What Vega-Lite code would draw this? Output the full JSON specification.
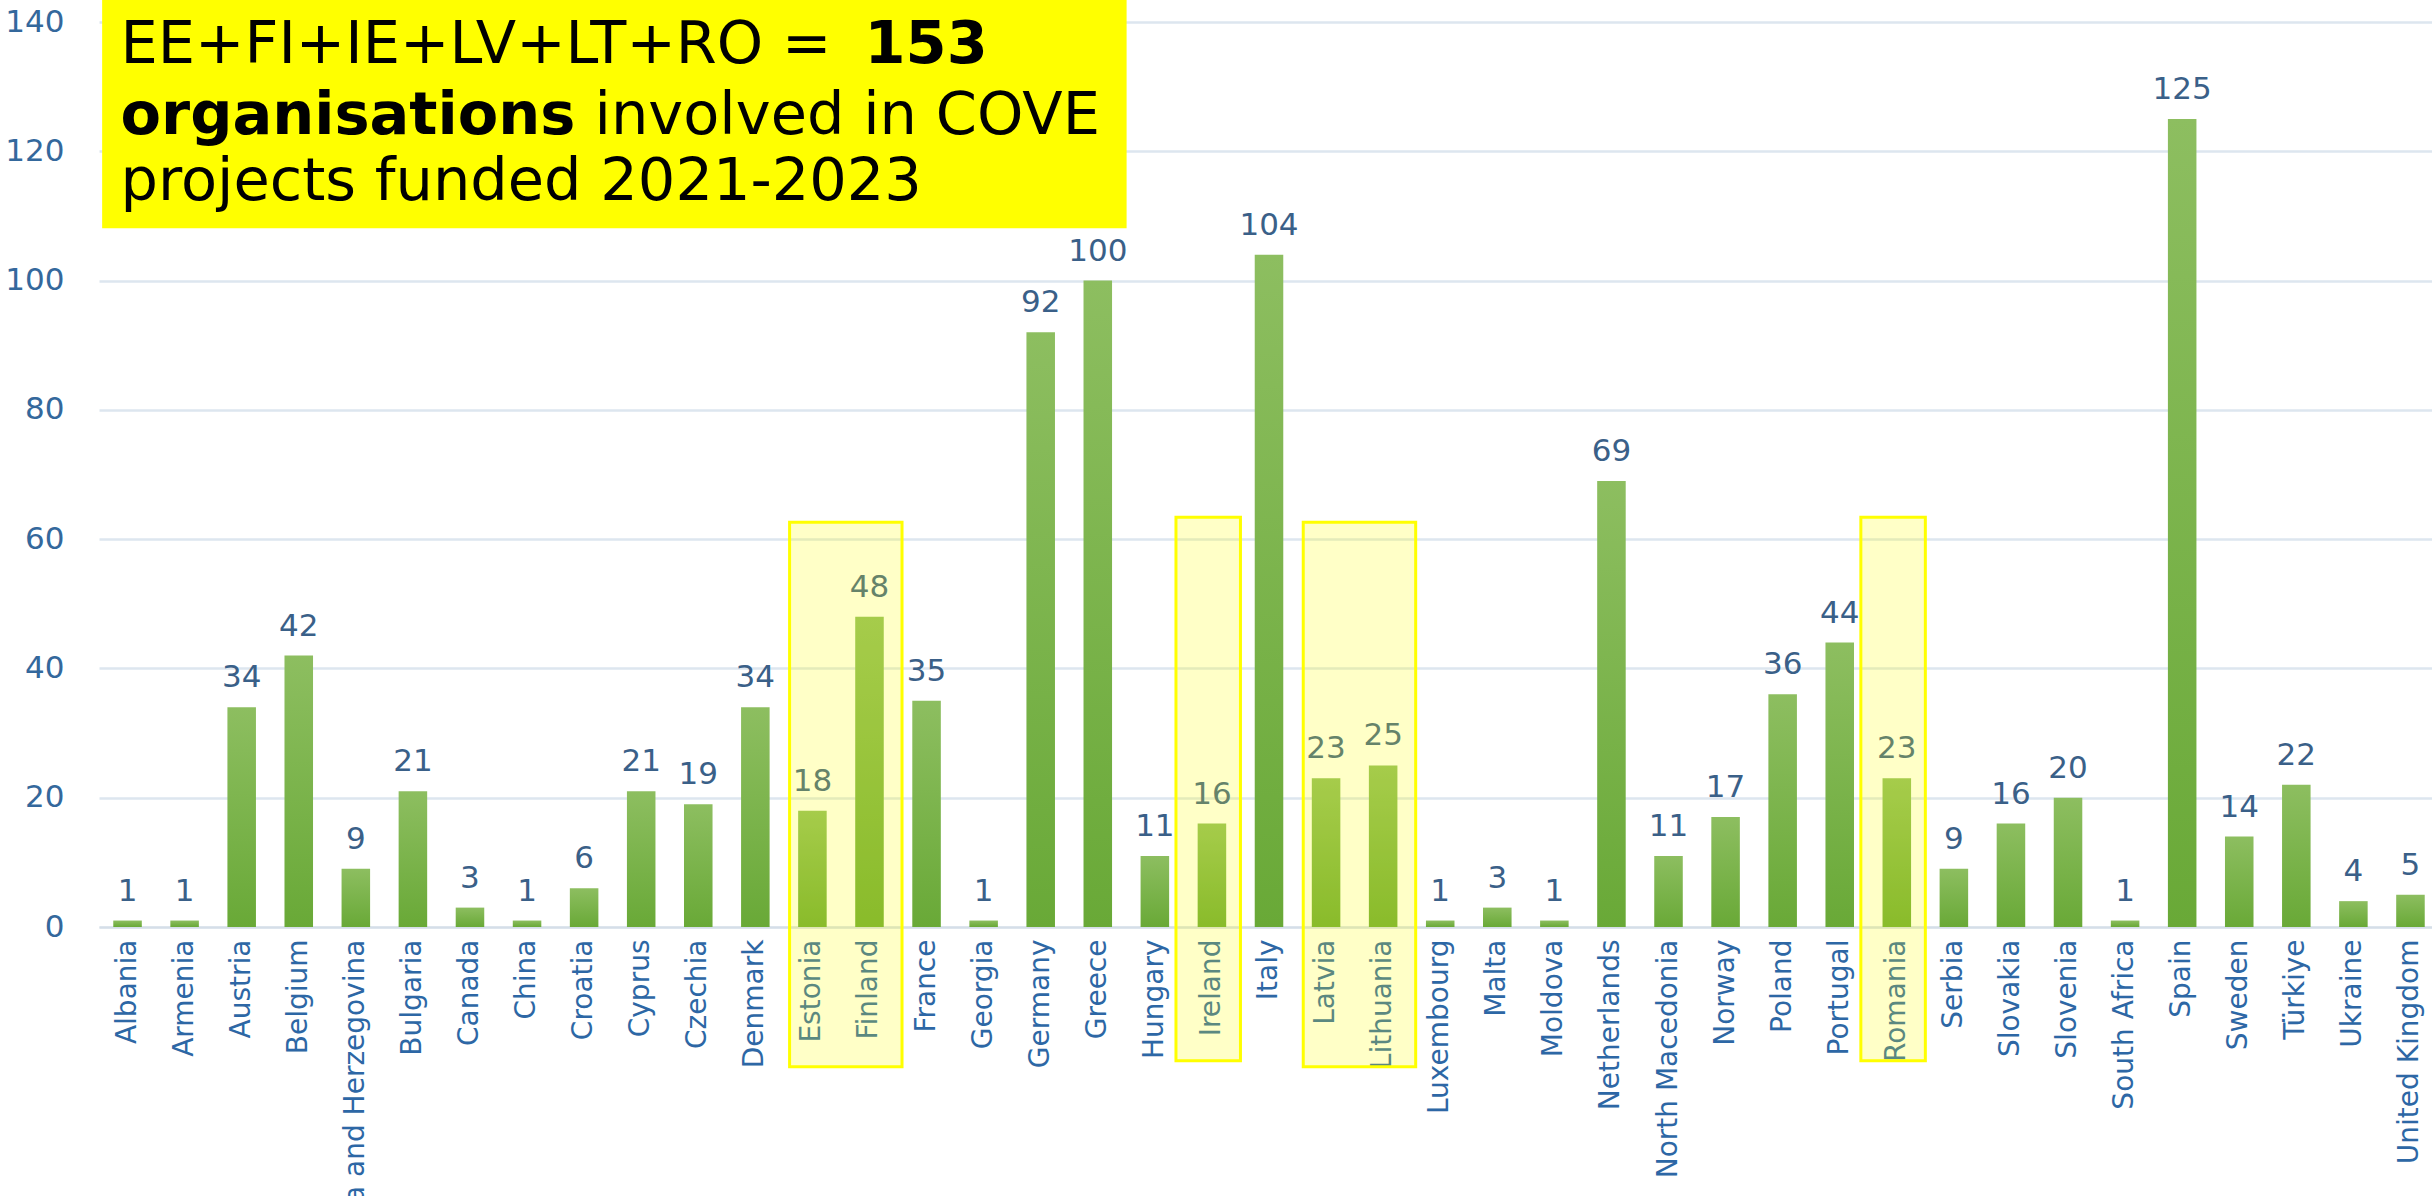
{
  "$schema": "https://vega.github.io/schema/vega-lite/v6.json",
  "autosize": {"type": "none"},
  "padding": {"left": 99, "top": 22, "right": 0, "bottom": 300},
  "width": 2340,
  "height": 905,
  "background": "#ffffff",
  "config": {
    "view": {"stroke": null},
    "font": "DejaVu Sans"
  },
  "datasets": {
    "countries": [
      {"country": "Albania", "orgs": 1},
      {"country": "Armenia", "orgs": 1},
      {"country": "Austria", "orgs": 34},
      {"country": "Belgium", "orgs": 42},
      {"country": "Bosnia and Herzegovina", "orgs": 9},
      {"country": "Bulgaria", "orgs": 21},
      {"country": "Canada", "orgs": 3},
      {"country": "China", "orgs": 1},
      {"country": "Croatia", "orgs": 6},
      {"country": "Cyprus", "orgs": 21},
      {"country": "Czechia", "orgs": 19},
      {"country": "Denmark", "orgs": 34},
      {"country": "Estonia", "orgs": 18},
      {"country": "Finland", "orgs": 48},
      {"country": "France", "orgs": 35},
      {"country": "Georgia", "orgs": 1},
      {"country": "Germany", "orgs": 92},
      {"country": "Greece", "orgs": 100},
      {"country": "Hungary", "orgs": 11},
      {"country": "Ireland", "orgs": 16},
      {"country": "Italy", "orgs": 104},
      {"country": "Latvia", "orgs": 23},
      {"country": "Lithuania", "orgs": 25},
      {"country": "Luxembourg", "orgs": 1},
      {"country": "Malta", "orgs": 3},
      {"country": "Moldova", "orgs": 1},
      {"country": "Netherlands", "orgs": 69},
      {"country": "North Macedonia", "orgs": 11},
      {"country": "Norway", "orgs": 17},
      {"country": "Poland", "orgs": 36},
      {"country": "Portugal", "orgs": 44},
      {"country": "Romania", "orgs": 23},
      {"country": "Serbia", "orgs": 9},
      {"country": "Slovakia", "orgs": 16},
      {"country": "Slovenia", "orgs": 20},
      {"country": "South Africa", "orgs": 1},
      {"country": "Spain", "orgs": 125},
      {"country": "Sweden", "orgs": 14},
      {"country": "Türkiye", "orgs": 22},
      {"country": "Ukraine", "orgs": 4},
      {"country": "United Kingdom", "orgs": 5}
    ],
    "highlights": [
      {"from": "Estonia", "to": "Finland", "kind": "pair"},
      {"from": "Ireland", "to": "Ireland", "kind": "single"},
      {"from": "Latvia", "to": "Lithuania", "kind": "pair"},
      {"from": "Romania", "to": "Romania", "kind": "single"}
    ],
    "one": [{"note": "annotation"}]
  },
  "layer": [
    {
      "data": {"name": "countries"},
      "mark": {
        "type": "bar",
        "color": {
          "gradient": "linear",
          "x1": 0, "y1": 0, "x2": 0, "y2": 1,
          "stops": [
            {"offset": 0, "color": "#8dbe60"},
            {"offset": 1, "color": "#69a937"}
          ]
        }
      },
      "encoding": {
        "x": {
          "field": "country",
          "type": "nominal",
          "sort": null,
          "scale": {
            "domain": ["Albania","Armenia","Austria","Belgium","Bosnia and Herzegovina","Bulgaria","Canada","China","Croatia","Cyprus","Czechia","Denmark","Estonia","Finland","France","Georgia","Germany","Greece","Hungary","Ireland","Italy","Latvia","Lithuania","Luxembourg","Malta","Moldova","Netherlands","North Macedonia","Norway","Poland","Portugal","Romania","Serbia","Slovakia","Slovenia","South Africa","Spain","Sweden","Türkiye","Ukraine","United Kingdom"],
            "paddingInner": 0.5,
            "paddingOuter": 0.25
          },
          "axis": {
            "title": null,
            "labelAngle": -90,
            "labelFont": "DejaVu Sans",
            "labelFontSize": 28,
            "labelColor": "#2d67a5",
            "labelPadding": 12,
            "labelLimit": 0,
            "labelOverlap": false,
            "ticks": false,
            "domainColor": "#d5dee8",
            "domainWidth": 2,
            "grid": false,
            "zindex": 0
          }
        },
        "y": {
          "field": "orgs",
          "type": "quantitative",
          "scale": {"domain": [0, 140], "nice": false},
          "axis": {
            "title": null,
            "values": [0, 20, 40, 60, 80, 100, 120, 140],
            "labelFont": "DejaVu Sans",
            "labelFontSize": 31,
            "labelColor": "#34689c",
            "labelPadding": 35,
            "ticks": false,
            "domain": false,
            "grid": true,
            "gridColor": "#dde6ef",
            "gridWidth": 2.5,
            "zindex": 0
          }
        }
      }
    },
    {
      "data": {"name": "countries"},
      "mark": {
        "type": "text",
        "font": "DejaVu Sans",
        "fontSize": 31,
        "color": "#3a6088",
        "baseline": "alphabetic",
        "dy": -20
      },
      "encoding": {
        "x": {"field": "country", "type": "nominal", "sort": null},
        "y": {"field": "orgs", "type": "quantitative"},
        "text": {"field": "orgs", "type": "quantitative"}
      }
    },
    {
      "data": {"name": "highlights"},
      "transform": [{"filter": "datum.kind === 'pair'"}],
      "mark": {
        "type": "rect",
        "fill": "#ffff00",
        "fillOpacity": 0.22,
        "stroke": "#ffff00",
        "strokeWidth": 3
      },
      "encoding": {
        "x": {"field": "from", "type": "nominal", "sort": null, "bandPosition": -0.3},
        "x2": {"field": "to", "bandPosition": 1.64},
        "y": {"datum": 62.6},
        "y2": {"datum": -21.6}
      }
    },
    {
      "data": {"name": "highlights"},
      "transform": [{"filter": "datum.kind === 'single'"}],
      "mark": {
        "type": "rect",
        "fill": "#ffff00",
        "fillOpacity": 0.22,
        "stroke": "#ffff00",
        "strokeWidth": 3
      },
      "encoding": {
        "x": {"field": "from", "type": "nominal", "sort": null, "bandPosition": -0.76},
        "x2": {"field": "to", "bandPosition": 1.5},
        "y": {"datum": 63.4},
        "y2": {"datum": -20.7}
      }
    },
    {
      "data": {"name": "one"},
      "mark": {"type": "rect", "fill": "#ffff00"},
      "encoding": {
        "x": {"datum": "Albania", "type": "nominal", "bandPosition": -0.39},
        "x2": {"datum": "Greece", "bandPosition": 1.51},
        "y": {"datum": 143.4},
        "y2": {"datum": 108.1}
      }
    },
    {
      "data": {"name": "one"},
      "mark": {"type": "text", "text": "EE+FI+IE+LV+LT+RO =", "font": "DejaVu Sans", "fontSize": 59, "color": "#000000", "align": "left", "baseline": "alphabetic", "dx": -7},
      "encoding": {
        "x": {"datum": "Albania", "type": "nominal"},
        "y": {"datum": 133.6}
      }
    },
    {
      "data": {"name": "one"},
      "mark": {"type": "text", "text": "153", "font": "DejaVu Sans", "fontSize": 59, "fontWeight": "bold", "color": "#000000", "align": "left", "baseline": "alphabetic", "dx": 737},
      "encoding": {
        "x": {"datum": "Albania", "type": "nominal"},
        "y": {"datum": 133.6}
      }
    },
    {
      "data": {"name": "one"},
      "mark": {"type": "text", "text": "organisations", "font": "DejaVu Sans", "fontSize": 59, "fontWeight": "bold", "color": "#000000", "align": "left", "baseline": "alphabetic", "dx": -7},
      "encoding": {
        "x": {"datum": "Albania", "type": "nominal"},
        "y": {"datum": 122.6}
      }
    },
    {
      "data": {"name": "one"},
      "mark": {"type": "text", "text": "involved in COVE", "font": "DejaVu Sans", "fontSize": 59, "color": "#000000", "align": "left", "baseline": "alphabetic", "dx": 467},
      "encoding": {
        "x": {"datum": "Albania", "type": "nominal"},
        "y": {"datum": 122.6}
      }
    },
    {
      "data": {"name": "one"},
      "mark": {"type": "text", "text": "projects funded 2021-2023", "font": "DejaVu Sans", "fontSize": 59, "color": "#000000", "align": "left", "baseline": "alphabetic", "dx": -7},
      "encoding": {
        "x": {"datum": "Albania", "type": "nominal"},
        "y": {"datum": 112.5}
      }
    }
  ]
}
